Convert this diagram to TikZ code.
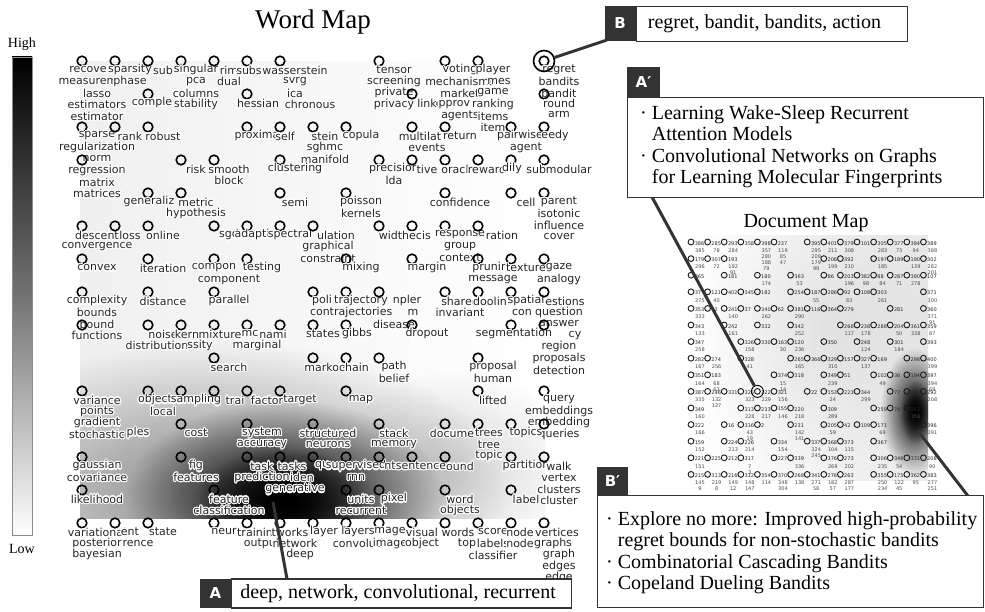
\documentclass[tikz,border=0pt]{standalone}
\usepackage{fontspec}
\setmainfont{Liberation Serif}
\newfontfamily\wordfont{DejaVu Sans}
\usepackage[copies]{contour}
\contourlength{1.1pt}
\usetikzlibrary{fadings}

\tikzfading[name=softblob, inner color=transparent!0, outer color=transparent!100]

% word map: circle on the grid and a stack of words under it
\newcommand{\wm}[4][0]{%
  \draw[wcirc] ({82+33*#2},{61+33*#3}) circle (4.8);
  \foreach \w [count=\k] in {#4}
    \node[wtext] (w#2-#3-\k) at ({97+33*#2+#1},{70.5+33*#3+11.5*(\k-1)}) {\contour{white}{\w}};
}
% a single word line, no circle
\newcommand{\wl}[5][0]{%
  \node[wtext] (l#2-#3-#4) at ({97+33*#2+#1},{70.5+33*#3+11.5*(#4-1)}) {\contour{white}{#5}};
}
% a circle only
\newcommand{\wc}[2]{\draw[wcirc] ({82+33*#1},{61+33*#2}) circle (4.8);}
% document map: circle, id and numbers below
\newcommand{\dm}[4]{%
  \draw[dcirc] ({691+16.6*#1},{242+16.6*#2}) circle (2.9);
  \node[dnum] (d#1-#2) at ({694.6+16.6*#1},{243.2+16.6*#2}) {#3};
  \foreach \b [count=\k] in {#4}
    \node[dsub] (d#1-#2-\k) at ({700+16.6*#1},{250.5+16.6*#2+6*(\k-1)}) {\b};
}

\begin{document}
\begin{tikzpicture}[x=1pt, y=-1pt,
  wcirc/.style={draw=black, line width=1.6pt},
  wtext/.style={font=\wordfont\fontsize{11}{11.5}\selectfont, text=black!85, inner sep=0pt},
  dcirc/.style={draw=black!90, line width=0.9pt},
  dnum/.style={font=\wordfont\fontsize{5}{5}\selectfont, text=black!85, anchor=west, inner sep=0pt},
  dsub/.style={font=\wordfont\fontsize{5}{5}\selectfont, text=black!70, inner sep=0pt},
  tab/.style={fill=black!80, text=white, font=\wordfont\bfseries\fontsize{15}{15}\selectfont, minimum width=31, minimum height=30, inner sep=0pt},
  callbox/.style={draw=black!80, line width=1.2pt, fill=white, inner sep=0pt},
  calltext/.style={font=\fontsize{20}{21.5}\selectfont, align=left, inner sep=0pt, anchor=north west},
  callline/.style={draw=black!80, line width=3pt}]

  \fill[white] (0,0) rectangle (985,612);
  \useasboundingbox (0,0) rectangle (985,612);

  % colour bar
  \node[font=\fontsize{14}{14}\selectfont] (high) at (22,44) {High};
  \node[font=\fontsize{14}{14}\selectfont] (low) at (22,549) {Low};
  \shade[top color=black, bottom color=white, middle color=black!55] (12,57) rectangle (32,535);
  \draw[black!45, line width=0.6pt] (12,57) rectangle (32,535);

  % titles
  \node[font=\fontsize{27}{27}\selectfont] (wtitle) at (313,22) {Word Map};
  \node[font=\fontsize{20}{20}\selectfont] (dtitle) at (806,223) {Document Map};

  % word map heat
  \begin{scope}
    \clip (80,62) rectangle (545,518);
    \shade[left color=black!6, right color=white] (80,62) rectangle (545,518);
    \fill[black, fill opacity=0.45, path fading=softblob] (220,490) ellipse (290 and 150);
    \fill[black, fill opacity=0.15, path fading=softblob] (450,470) ellipse (140 and 100);
    \fill[black, path fading=softblob] (285,500) ellipse (160 and 100);
    \fill[black, path fading=softblob] (285,502) ellipse (90 and 55);
  \end{scope}

  % document map heat
  \begin{scope}
    \clip (686,236) rectangle (928,480);
    \shade[left color=white, right color=black!8] (686,236) rectangle (928,480);
    \fill[black, fill opacity=0.07, path fading=softblob] (830,330) ellipse (140 and 150);
    \fill[black, path fading=softblob] (914,412) ellipse (34 and 64);
    \fill[black, path fading=softblob] (916,412) ellipse (16 and 32);
  \end{scope}

  % word map, row by row
  \wm[-9]{0}{0}{recove,measurem}
  \wl{0}{0}{3}{lasso}
  \wl{0}{0}{4}{estimators}
  \wl{0}{0}{5}{estimator}
  \wm{1}{0}{sparsity,phase}
  \wm{2}{0}{sub}
  \wm{3}{0}{singular,pca,columns,stability}
  \wm{4}{0}{rim,dual}
  \wm[-13]{5}{0}{subs}
  \wm{6}{0}{wasserstein,svrg,ica}
  \wl[15]{6}{0}{4}{chronous}
  \wm{9}{0}{tensor,screening,private,privacy}
  \wm{11}{0}{voting,mechanisms,market}
  \wl[-9]{11}{0}{4}{approv}
  \wl{11}{0}{5}{agents}
  \wm{12}{0}{player}
  \wl[6]{12}{0}{2}{mes}
  \wl{12}{0}{3}{game}
  \wl{12}{0}{4}{ranking}
  \wl{12}{0}{5}{items}
  \wl{12}{0}{6}{item}
  \wm{14}{0}{regret,bandits,bandit}

  \wm[-11]{2}{1}{comple}
  \wm[-4]{5}{1}{hessian}
  \wm{10}{1}{link}
  \wm{14}{1}{round,arm}

  \wm{0}{2}{sparse,regularization,norm,regression,matrix,matrices}
  \wm{1}{2}{rank}
  \wm{2}{2}{robust}
  \wm[-5]{5}{2}{proxima}
  \wm[-10]{6}{2}{self}
  \wm[-3]{7}{2}{stein,sghmc,manifold}
  \wm{8}{2}{copula}
  \wm[-7]{10}{2}{multilat}
  \wl{10}{2}{2}{events}
  \wm{11}{2}{return}
  \wm[-6]{13}{2}{pairwise}
  \wl{13}{2}{2}{agent}
  \wm[-4]{14}{2}{eedy}

  \wc{0}{3}
  \wm{3}{3}{risk}
  \wm{4}{3}{smooth,block}
  \wm{6}{3}{clustering}
  \wm{9}{3}{precision,lda}
  \wm{10}{3}{tive}
  \wm[-5]{11}{3}{oracl}
  \wm[-6]{12}{3}{reward}
  \wm[-14]{13}{3}{dily}
  \wm{14}{3}{submodular}

  \wm[-14]{2}{4}{generaliz}
  \wm{3}{4}{metric,hypothesis}
  \wm{6}{4}{semi}
  \wm{8}{4}{poisson,kernels}
  \wm{11}{4}{confidence}
  \wm{13}{4}{cell}
  \wm{14}{4}{parent,isotonic,influence,cover}

  \wm{0}{5}{descent,convergence}
  \wm{1}{5}{loss}
  \wm{2}{5}{online}
  \wm{4}{5}{sgd}
  \wm[-10]{5}{5}{adapti}
  \wm[-5]{6}{5}{spectral}
  \wm[8]{7}{5}{ulation}
  \wl{7}{5}{2}{graphical}
  \wl{7}{5}{3}{constraint}
  \wm{9}{5}{width}
  \wm[-7]{10}{5}{ecis}
  \wm{11}{5}{response,group,context}
  \wm[9]{12}{5}{ration}

  \wm{0}{6}{convex}
  \wm{2}{6}{iteration}
  \wm[-15]{4}{6}{compon}
  \wl{4}{6}{2}{component}
  \wm{5}{6}{testing}
  \wm{8}{6}{mixing}
  \wm{10}{6}{margin}
  \wm[-4]{12}{6}{prunir}
  \wl{12}{6}{2}{message}
  \wm{13}{6}{texture}
  \wm{14}{6}{gaze,analogy}

  \wm{0}{7}{complexity,bounds,bound,functions}
  \wm{2}{7}{distance}
  \wm{4}{7}{parallel}
  \wm[-6]{7}{7}{poli}
  \wl[-8]{7}{7}{2}{con}
  \wm{8}{7}{trajectory,trajectories}
  \wm[13]{9}{7}{npler}
  \wl[19]{9}{7}{2}{m}
  \wl{9}{7}{3}{disease}
  \wm{11}{7}{shared,invariant}
  \wm[-3]{12}{7}{doolin}
  \wm{13}{7}{spatial}
  \wl[-4]{13}{7}{2}{con}
  \wm[6]{14}{7}{estions}
  \wl{14}{7}{2}{question}
  \wl{14}{7}{3}{answer}
  \wl[16]{14}{7}{4}{cy}
  \wl{14}{7}{5}{region}
  \wl{14}{7}{6}{proposals}
  \wl{14}{7}{7}{detection}

  \wc{0}{8}
  \wm{2}{8}{noise}
  \wl[-6]{2}{8}{2}{distribution}
  \wm[-9]{3}{8}{kern}
  \wl[4]{3}{8}{2}{ssity}
  \wm[-9]{4}{8}{mixture}
  \wm[-12]{5}{8}{mc}
  \wl[-5]{5}{8}{2}{marginal}
  \wm[-22]{6}{8}{nami}
  \wm[-5]{7}{8}{states}
  \wm[-4]{8}{8}{gibbs}
  \wm{10}{8}{dropout}
  \wm[-12]{13}{8}{segmentation}
  \wc{14}{8}

  \wm{4}{9}{search}
  \wm[-3]{7}{9}{markov}
  \wm[-7]{8}{9}{chain}
  \wm{9}{9}{path,belief}
  \wm{12}{9}{proposal,human}

  \wm{0}{10}{variance,points,gradient,stochastic}
  \wm[-8]{2}{10}{object}
  \wl{2}{10}{2}{local}
  \wm{3}{10}{sampling}
  \wm[6]{4}{10}{trai}
  \wm[5]{5}{10}{factor}
  \wm[5]{6}{10}{target}
  \wm{8}{10}{map}
  \wm{12}{10}{lifted}
  \wm{14}{10}{query,embeddings,embedding,queries}

  \wl[8]{1}{11}{1}{ples}
  \wm{3}{11}{cost}
  \wm{5}{11}{system,accuracy}
  \wm{7}{11}{structured,neurons}
  \wm{9}{11}{stack,memory}
  \wm[-8]{11}{11}{docume}
  \wm[-4]{12}{11}{trees,tree,topic}
  \wm{13}{11}{topics}
  \wc{14}{11}

  \wm{0}{12}{gaussian,covariance}
  \wm{3}{12}{fig,features}
  \wm{5}{12}{task,prediction}
  \wm[-3]{6}{12}{tasks}
  \wl[7]{6}{12}{2}{iden}
  \wl{6}{12}{3}{generative}
  \wm[-6]{7}{12}{qu}
  \wm[-5]{8}{12}{supervised,rnn}
  \wm[-4]{9}{12}{nt}
  \wm[-6]{10}{12}{sentence}
  \wm{11}{12}{ound}
  \wm{13}{12}{partition}
  \wm{14}{12}{walk,vertex,clusters,cluster}

  \wm{0}{13}{likelihood}
  \wm{4}{13}{feature,classification}
  \wm{8}{13}{units,recurrent}
  \wm{9}{13}{pixel}
  \wm{11}{13}{word,objects}
  \wm{13}{13}{label}

  \wm{0}{14}{variational,posterior,bayesian}
  \wm{1}{14}{ent}
  \wl[8]{1}{14}{2}{rence}
  \wm{2}{14}{state}
  \wm[-5]{4}{14}{neur}
  \wm[-7]{5}{14}{trainin}
  \wl{5}{14}{2}{output}
  \wm[-5]{6}{14}{tworks}
  \wl{6}{14}{2}{network}
  \wl[5]{6}{14}{3}{deep}
  \wm[-4]{7}{14}{layer}
  \wm[-3]{8}{14}{layers,convoluti}
  \wm[-4]{9}{14}{mage,image}
  \wm[-5]{10}{14}{visual,object}
  \wm[-2]{11}{14}{words}
  \wl[7]{11}{14}{2}{top}
  \wm{12}{14}{score,labels,classifier}
  \wm[-6]{13}{14}{node,node}
  \wm[-2]{14}{14}{vertices}
  \wl[-6]{14}{14}{2}{graphs}
  \wl{14}{14}{3}{graph}
  \wl{14}{14}{4}{edges}
  \wl{14}{14}{5}{edge}

  \node[circle, draw=black, line width=1.6pt, minimum size=21, inner sep=0pt] (hlword) at (544,61) {};

  % document map, row by row
  \dm{0}{0}{386}{385} \dm{1}{0}{285}{78} \dm{2}{0}{293}{284} \dm{3}{0}{358}{}
  \dm{4}{0}{398}{357,280,188,79} \dm{5}{0}{237}{119,85,47} \dm{7}{0}{395}{295,209,179,99}
  \dm{8}{0}{401}{211} \dm{9}{0}{379}{308} \dm{10}{0}{101}{} \dm{11}{0}{305}{283}
  \dm{12}{0}{377}{73} \dm{13}{0}{384}{94} \dm{14}{0}{389}{388}

  \dm{0}{1}{179}{296} \dm{1}{1}{307}{72} \dm{2}{1}{193}{192,91} \dm{8}{1}{206}{199}
  \dm{9}{1}{392}{210} \dm{11}{1}{197}{185} \dm{12}{1}{189}{} \dm{13}{1}{190}{139}
  \dm{14}{1}{302}{282,201}

  \dm{0}{2}{365}{} \dm{2}{2}{181}{} \dm{4}{2}{180}{174} \dm{6}{2}{363}{53}
  \dm{8}{2}{86}{} \dm{9}{2}{203}{196} \dm{10}{2}{382}{98} \dm{11}{2}{88}{84}
  \dm{12}{2}{287}{71} \dm{13}{2}{380}{278} \dm{14}{2}{107}{}

  \dm{0}{3}{37}{275} \dm{1}{3}{121}{40} \dm{2}{3}{402}{} \dm{3}{3}{345}{}
  \dm{4}{3}{182}{} \dm{6}{3}{254}{} \dm{7}{3}{187}{55} \dm{8}{3}{286}{}
  \dm{9}{3}{92}{83} \dm{10}{3}{108}{} \dm{11}{3}{303}{261} \dm{14}{3}{371}{300}

  \dm{0}{4}{353}{333} \dm{1}{4}{72}{} \dm{2}{4}{241}{140} \dm{3}{4}{37}{}
  \dm{4}{4}{340}{262} \dm{5}{4}{62}{} \dm{6}{4}{381}{290} \dm{7}{4}{116}{}
  \dm{8}{4}{364}{} \dm{9}{4}{279}{} \dm{12}{4}{281}{} \dm{14}{4}{360}{371,91}

  \dm{0}{5}{343}{133} \dm{2}{5}{242}{161} \dm{4}{5}{332}{} \dm{6}{5}{342}{252}
  \dm{9}{5}{266}{117} \dm{10}{5}{238}{178} \dm{11}{5}{288}{} \dm{12}{5}{204}{50}
  \dm{13}{5}{361}{338} \dm{14}{5}{359}{87}

  \dm{0}{6}{347}{258} \dm{3}{6}{326}{158} \dm{4}{6}{330}{} \dm{5}{6}{163}{30}
  \dm{6}{6}{120}{236} \dm{8}{6}{350}{} \dm{10}{6}{248}{124} \dm{12}{6}{301}{184}
  \dm{14}{6}{393}{}

  \dm{0}{7}{282}{167} \dm{1}{7}{274}{256} \dm{3}{7}{328}{41} \dm{6}{7}{265}{165}
  \dm{7}{7}{366}{} \dm{8}{7}{329}{310} \dm{9}{7}{157}{} \dm{10}{7}{327}{137}
  \dm{11}{7}{169}{} \dm{13}{7}{298}{} \dm{14}{7}{400}{399}

  \dm{0}{8}{351}{164} \dm{1}{8}{183}{68,63} \dm{5}{8}{374}{15,14} \dm{6}{8}{318}{}
  \dm{8}{8}{349}{239} \dm{9}{8}{51}{} \dm{11}{8}{102}{49} \dm{12}{8}{36}{}
  \dm{13}{8}{194}{} \dm{14}{8}{397}{394,69}

  \dm{0}{9}{387}{335} \dm{1}{9}{246}{132,127} \dm{2}{9}{331}{} \dm{3}{9}{325}{323}
  \dm{4}{9}{322}{229} \dm{5}{9}{321}{156} \dm{7}{9}{22}{} \dm{8}{9}{153}{24}
  \dm{9}{9}{223}{} \dm{10}{9}{344}{299} \dm{12}{9}{77}{} \dm{13}{9}{260}{}
  \dm{14}{9}{292}{208}

  \dm{0}{10}{349}{160} \dm{3}{10}{313}{228} \dm{4}{10}{233}{217} \dm{5}{10}{155}{146}
  \dm{6}{10}{220}{218} \dm{8}{10}{309}{289} \dm{11}{10}{259}{} \dm{12}{10}{74}{}
  \dm{13}{10}{363}{356}

  \dm{0}{11}{222}{166} \dm{2}{11}{16}{} \dm{3}{11}{316}{43,19} \dm{4}{11}{2}{}
  \dm{6}{11}{231}{142,141} \dm{8}{11}{205}{59} \dm{9}{11}{42}{} \dm{10}{11}{109}{}
  \dm{11}{11}{171}{69} \dm{14}{11}{396}{391}

  \dm{0}{12}{159}{152} \dm{2}{12}{224}{213} \dm{3}{12}{226}{214} \dm{5}{12}{334}{154}
  \dm{7}{12}{337}{324,245} \dm{8}{12}{368}{104} \dm{9}{12}{373}{115} \dm{11}{12}{367}{}

  \dm{0}{13}{221}{151} \dm{1}{13}{225}{} \dm{2}{13}{212}{} \dm{3}{13}{317}{7,3}
  \dm{5}{13}{227}{} \dm{6}{13}{339}{336} \dm{8}{13}{376}{269} \dm{9}{13}{273}{202}
  \dm{11}{13}{306}{235} \dm{12}{13}{346}{54} \dm{13}{13}{331}{} \dm{14}{13}{208}{90}

  \dm{0}{14}{215}{145,9} \dm{1}{14}{313}{219,8} \dm{2}{14}{216}{149,12} \dm{3}{14}{312}{148,147}
  \dm{4}{14}{354}{114} \dm{5}{14}{370}{348,304} \dm{6}{14}{268}{138} \dm{7}{14}{341}{271,58}
  \dm{8}{14}{276}{182,57} \dm{9}{14}{263}{287,177} \dm{11}{14}{355}{250,234} \dm{12}{14}{175}{122,45}
  \dm{13}{14}{362}{95} \dm{14}{14}{383}{277,251}

  \node[circle, draw=black, line width=0.9pt, minimum size=12, inner sep=0pt] (hldoc) at (757.4,391.4) {};

  % connectors
  \coordinate (footB) at (607,40);
  \coordinate (blobA) at (273,502);
  \coordinate (footA) at (287,579);
  \coordinate (footAp) at (652,197);
  \coordinate (blobB) at (918,431);
  \coordinate (footBp) at (968,496);
  \draw[callline] (footB) -- (hlword);
  \draw[callline] (blobA) -- (footA);
  \draw[callline] (footAp) -- (hldoc);
  \draw[callline] (blobB) -- (footBp);

  % callout B
  \node[tab, minimum height=35] (tabB) at (620,23.5) {B};
  \node[callbox, anchor=north west, minimum width=271, minimum height=35] (boxB) at (tabB.north east) {};
  \node[calltext, anchor=west] (txtB) at ([xshift=12pt]boxB.west) {regret, bandit, bandits, action};

  % callout A
  \node[tab, minimum height=29] (tabA) at (215.5,593) {A};
  \node[callbox, anchor=north west, minimum width=340, minimum height=29] (boxA) at (tabA.north east) {};
  \node[calltext, anchor=west] (txtA) at ([xshift=9pt]boxA.west) {deep, network, convolutional, recurrent};

  % callout A'
  \node[tab, minimum width=33] (tabAp) at (643.5,82) {A′};
  \node[callbox, anchor=north west, minimum width=356, minimum height=100] (boxAp) at (tabAp.south west) {};
  \node[calltext] (txtAp) at (640,105) {·~Learning Wake-Sleep Recurrent\\\phantom{·~}Attention Models\\·~Convolutional Networks on Graphs\\\phantom{·~}for Learning Molecular Fingerprints};

  % callout B'
  \node[tab, minimum height=28] (tabBp) at (612.5,481) {B′};
  \node[callbox, anchor=north west, minimum width=386, minimum height=112] (boxBp) at (tabBp.south west) {};
  \node[calltext] (txtBp) at (606,511) {·~Explore no more: Improved high-probability\\\phantom{·~}regret bounds for non-stochastic bandits\\·~Combinatorial Cascading Bandits\\·~Copeland Dueling Bandits};

\end{tikzpicture}
\end{document}
